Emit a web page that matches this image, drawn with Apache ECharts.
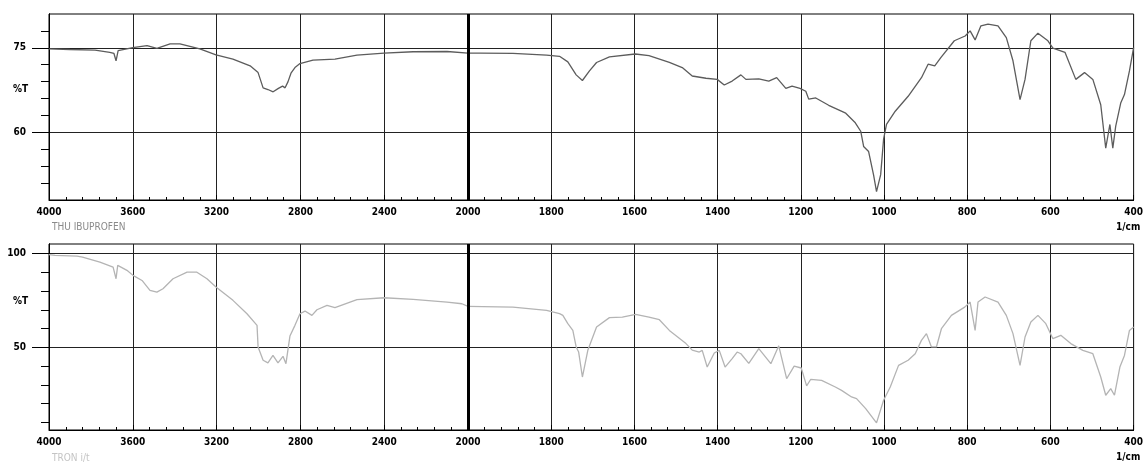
<!DOCTYPE html>
<html>
<head>
<meta charset="utf-8">
<script src="https://cdn.jsdelivr.net/npm/echarts@6/dist/echarts.min.js"></script>
<style>
  html, body { margin: 0; padding: 0; background: #fff; }
  #main { width: 1146px; height: 464px; }
</style>
</head>
<body>
<div id="main"></div>
<script>
// upper spectrum (THU IBUPROFEN) : wavenumber 1/cm, %T
var topWn = [4000, 3900, 3780, 3710, 3690, 3680, 3670, 3600, 3532, 3485, 3422, 3375, 3280, 3203, 3122, 3040, 3002, 2978, 2955, 2930, 2905, 2885, 2873, 2859, 2845, 2826, 2802, 2740, 2635, 2530, 2401, 2262, 2100, 2000,
  1971, 1892, 1811, 1780, 1760, 1740, 1725, 1708, 1691, 1660, 1598, 1565, 1516, 1485, 1461, 1428, 1401, 1384, 1365, 1344, 1332, 1301, 1277, 1258, 1236, 1221, 1202, 1188, 1181, 1164, 1133, 1092, 1069, 1056, 1049, 1037, 1025, 1018, 1008, 1001, 994, 973, 942, 910, 894, 878, 863, 831, 805, 793, 781, 767, 750, 726, 706, 690, 673, 661, 647, 630, 606, 594, 565, 539, 518, 498, 479, 467, 457, 450, 443, 431, 422, 410, 400];
var topT = [74.8, 74.7, 74.6, 74.2, 74.0, 72.7, 74.5, 75.05, 75.4, 74.9, 75.7, 75.7, 74.8, 73.75, 73.0, 71.8, 70.6, 67.9, 67.6, 67.2, 67.8, 68.2, 67.9, 69.0, 70.5, 71.5, 72.2, 72.8, 73.0, 73.7, 74.05, 74.3, 74.35, 74.05,
  74.05, 74.0, 73.7, 73.5, 72.5, 70.2, 69.2, 70.9, 72.4, 73.4, 73.9, 73.6, 72.4, 71.5, 70.0, 69.6, 69.4, 68.4, 69.1, 70.2, 69.4, 69.5, 69.1, 69.7, 67.8, 68.2, 67.8, 67.3, 65.9, 66.1, 64.8, 63.4, 61.7, 60.2, 57.5, 56.6, 52.4, 49.5, 52.5, 58.8, 61.4, 63.75, 66.4, 69.7, 72.1, 71.8, 73.3, 76.25, 77.1, 78.0, 76.4, 78.9, 79.2, 78.9, 76.8, 72.7, 65.8, 69.4, 76.25, 77.6, 76.25, 74.95, 74.2, 69.4, 70.6, 69.4, 64.9, 57.2, 61.4, 57.2, 61.1, 65.2, 66.7, 70.9, 75.05];

// lower spectrum
var botWn = [4000, 3971, 3866, 3840, 3757, 3694, 3680, 3672, 3628, 3599, 3556, 3518, 3485, 3456, 3408, 3341, 3294, 3246, 3203, 3122, 3055, 3007, 3002, 2978, 2955, 2931, 2907, 2883, 2869, 2850, 2826, 2802, 2778, 2745, 2721, 2673, 2635, 2530, 2401, 2262, 2100, 2029, 2000,
  1892, 1811, 1780, 1772, 1760, 1748, 1740, 1734, 1725, 1712, 1691, 1660, 1629, 1597, 1565, 1540, 1516, 1476, 1461, 1444, 1437, 1425, 1408, 1396, 1382, 1365, 1353, 1344, 1325, 1301, 1272, 1253, 1234, 1216, 1199, 1186, 1176, 1150, 1117, 1102, 1078, 1066, 1044, 1018, 1001, 985, 965, 942, 925, 910, 898, 886, 874, 862, 838, 806, 793, 781, 774, 757, 726, 706, 690, 673, 661, 647, 630, 611, 594, 575, 551, 522, 498, 479, 467, 455, 446, 433, 422, 410, 400];
var botT = [99.3, 98.9, 98.5, 98.0, 95.4, 92.7, 86.5, 93.6, 91.0, 88.3, 85.6, 80.3, 79.4, 81.2, 86.5, 90.0, 90.0, 86.5, 82.1, 75.0, 67.9, 61.7, 50.2, 43.1, 41.7, 45.7, 41.7, 45.2, 41.3, 56.0, 61.7, 67.9, 69.3, 67.0, 70.0, 72.3, 71.1, 75.4, 76.4, 75.5, 74.1, 73.2, 71.8,
  71.4, 69.7, 67.9, 67.0, 62.6, 59.0, 50.2, 47.5, 34.2, 48.4, 60.8, 65.8, 66.1, 67.6, 66.1, 64.7, 59.0, 52.0, 48.5, 47.5, 48.4, 39.5, 47.0, 48.4, 39.5, 44.0, 47.5, 46.6, 41.5, 49.3, 41.3, 50.8, 33.3, 40.0, 39.0, 29.5, 33.0, 32.4, 28.9, 27.1, 23.6, 22.7, 17.4, 9.8, 21.8, 28.9, 40.4, 43.1, 46.6, 53.7, 57.3, 50.2, 50.2, 59.9, 67.0, 71.4, 74.1, 59.0, 74.1, 76.8, 74.1, 67.0, 57.3, 40.4, 55.5, 63.5, 67.0, 62.6, 54.6, 56.4, 52.0, 48.4, 46.6, 34.2, 24.5, 28.0, 24.5, 39.5, 45.7, 59.0, 60.8];

var topMinor = [51, 54, 57, 63, 66, 69, 72, 78];
var topMajor = [60, 75];
var botMinor = [10, 20, 30, 40, 60, 70, 80, 90];
var botMajor = [50, 100];

var FONT = 'DejaVu Sans Condensed';

function pairs(wn, t, lo, hi) {
  var res = [];
  for (var i = 0; i < wn.length; i++) {
    if (wn[i] >= lo && wn[i] <= hi) res.push([wn[i], t[i]]);
  }
  return res;
}

var grids = [
  {left: 49, top: 14, width: 419, height: 186},
  {left: 468, top: 14, width: 668, height: 186},
  {left: 49, top: 244, width: 419, height: 186},
  {left: 468, top: 244, width: 668, height: 186}
];

function xAxisFor(gi, wide) {
  return {
    type: 'value', gridIndex: gi, inverse: true,
    min: wide ? 2000 : 400, max: wide ? 4000 : 2000, interval: wide ? 400 : 200,
    axisLine: {show: true, onZero: false, lineStyle: {color: '#000', width: 1}},
    axisTick: {show: true, inside: true, length: 5, lineStyle: {color: '#000'}},
    minorTick: {show: true, splitNumber: 5, length: 3, lineStyle: {color: '#000'}},
    axisLabel: {
      color: '#000', fontFamily: FONT, fontWeight: 'bold', fontSize: 10, margin: 7,
      showMinLabel: true, showMaxLabel: true,
      formatter: function (v) { return (!wide && v === 2000) ? '' : String(v); }
    },
    splitLine: {show: true, lineStyle: {color: '#222', width: 1}}
  };
}

function yPair(gi, min, max, minor, major, labels) {
  var axes = [];
  if (labels) {
    axes.push({
      type: 'value', gridIndex: gi, min: min, max: max, position: 'left',
      axisLine: {show: true, onZero: false, lineStyle: {color: '#000'}},
      axisTick: {show: true, length: 8, customValues: minor, lineStyle: {color: '#000'}},
      axisLabel: {show: false},
      splitLine: {show: false}
    });
  }
  axes.push({
    type: 'value', gridIndex: gi, min: min, max: max, position: 'left', offset: 0,
    axisLine: {show: labels, onZero: false, lineStyle: {color: '#000'}},
    axisTick: {show: labels, length: 17, customValues: major, lineStyle: {color: '#000'}},
    axisLabel: {show: labels, customValues: major, color: '#000', fontFamily: FONT, fontWeight: 'bold', fontSize: 10, margin: 23},
    splitLine: {show: true, lineStyle: {color: '#222', width: 1}}
  });
  return axes;
}

var yAxes = [].concat(
  yPair(0, 48, 81, topMinor, topMajor, true),   // 0,1
  yPair(1, 48, 81, topMinor, topMajor, false),  // 2
  yPair(2, 6, 105, botMinor, botMajor, true),   // 3,4
  yPair(3, 6, 105, botMinor, botMajor, false)   // 5
);

function line(xi, yi, data, color, mark) {
  var s = {
    type: 'line', xAxisIndex: xi, yAxisIndex: yi, data: data,
    showSymbol: false, symbol: 'none', smooth: false, silent: true,
    lineStyle: {color: color, width: 1.3}
  };
  if (mark) {
    s.markLine = {
      silent: true, symbol: 'none', label: {show: false},
      lineStyle: {color: '#000', width: 3, type: 'solid'},
      data: [{xAxis: 2000}]
    };
  }
  return s;
}

var chart = echarts.init(document.getElementById('main'));
chart.setOption({
  animation: false,
  backgroundColor: '#fff',
  grid: grids.map(function (g) {
    return {left: g.left, top: g.top, width: g.width, height: g.height, show: true,
      borderColor: '#000', borderWidth: 1, backgroundColor: 'transparent'};
  }),
  xAxis: [xAxisFor(0, true), xAxisFor(1, false), xAxisFor(2, true), xAxisFor(3, false)],
  yAxis: yAxes,
  series: [
    line(0, 0, pairs(topWn, topT, 2000, 4000), '#5c5c5c', true),
    line(1, 2, pairs(topWn, topT, 400, 2000), '#5c5c5c', false),
    line(2, 3, pairs(botWn, botT, 2000, 4000), '#b4b4b4', true),
    line(3, 5, pairs(botWn, botT, 400, 2000), '#b4b4b4', false)
  ],
  graphic: [
    {type: 'text', left: 13, top: 84, style: {text: '%T', fill: '#000', font: 'bold 10px ' + FONT}},
    {type: 'text', left: 13, top: 296, style: {text: '%T', fill: '#000', font: 'bold 10px ' + FONT}},
    {type: 'text', left: 1116, top: 222, style: {text: '1/cm', fill: '#000', font: 'bold 10px ' + FONT}},
    {type: 'text', left: 1116, top: 452, style: {text: '1/cm', fill: '#000', font: 'bold 10px ' + FONT}},
    {type: 'text', left: 52, top: 222, style: {text: 'THU IBUPROFEN', fill: '#8a8a8a', font: '10px ' + FONT}},
    {type: 'text', left: 52, top: 453, style: {text: 'TRON i/t', fill: '#c4c4c4', font: '10px ' + FONT}}
  ]
});
</script>
</body>
</html>
